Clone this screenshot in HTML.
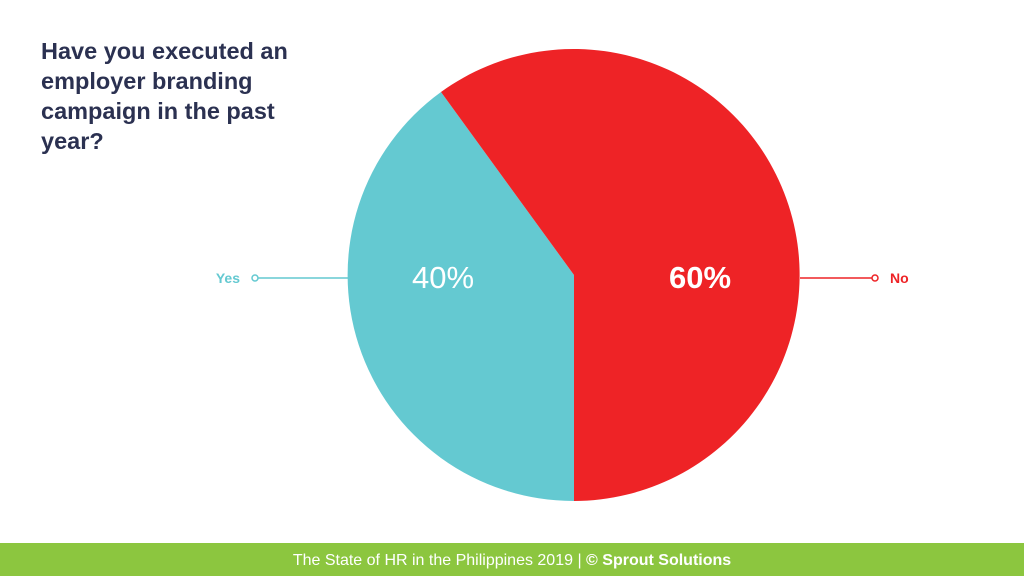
<!DOCTYPE html>
<html><head><meta charset="utf-8"><style>
body{margin:0;width:1024px;height:576px;background:#fff;overflow:hidden;position:relative;font-family:"Liberation Sans",sans-serif}
.t{position:absolute;left:41px;top:36px;font-size:23.5px;font-weight:bold;line-height:30px;color:#2b3151}
.f{position:absolute;left:0;top:543px;width:1024px;height:33px;background:#8cc63f;color:#fff;font-size:16px;line-height:35px;text-align:center}
</style></head><body>
<div class="t">Have you executed an<br>employer branding<br>campaign in the past<br>year?</div>
<svg width="1024" height="576" style="position:absolute;left:0;top:0">
<path d="M574,275 L574,501 A226,226 0 0,1 441,92 Z" fill="#64c9d1"/>
<path d="M574,275 L441,92 A226,226 0 1,1 574,501 Z" fill="#ee2326"/>
<line x1="257" y1="278" x2="348" y2="278" stroke="#64c9d1" stroke-width="1.5"/>
<circle cx="255" cy="278" r="3" fill="#fff" stroke="#64c9d1" stroke-width="1.5"/>
<line x1="800" y1="278" x2="872" y2="278" stroke="#ee2326" stroke-width="1.5"/>
<circle cx="875" cy="278" r="3" fill="#fff" stroke="#ee2326" stroke-width="1.5"/>
<text x="240" y="283" text-anchor="end" font-size="14" font-weight="bold" fill="#64c9d1" font-family="Liberation Sans,sans-serif">Yes</text>
<text x="890" y="283" font-size="14" font-weight="bold" fill="#ee2326" font-family="Liberation Sans,sans-serif">No</text>
<text x="443" y="288" text-anchor="middle" font-size="31" fill="#fff" font-family="Liberation Sans,sans-serif">40%</text>
<text x="700" y="288" text-anchor="middle" font-size="31" font-weight="bold" fill="#fff" font-family="Liberation Sans,sans-serif">60%</text>
</svg>
<div class="f">The State of HR in the Philippines 2019 | <b>© Sprout Solutions</b></div>
</body></html>
